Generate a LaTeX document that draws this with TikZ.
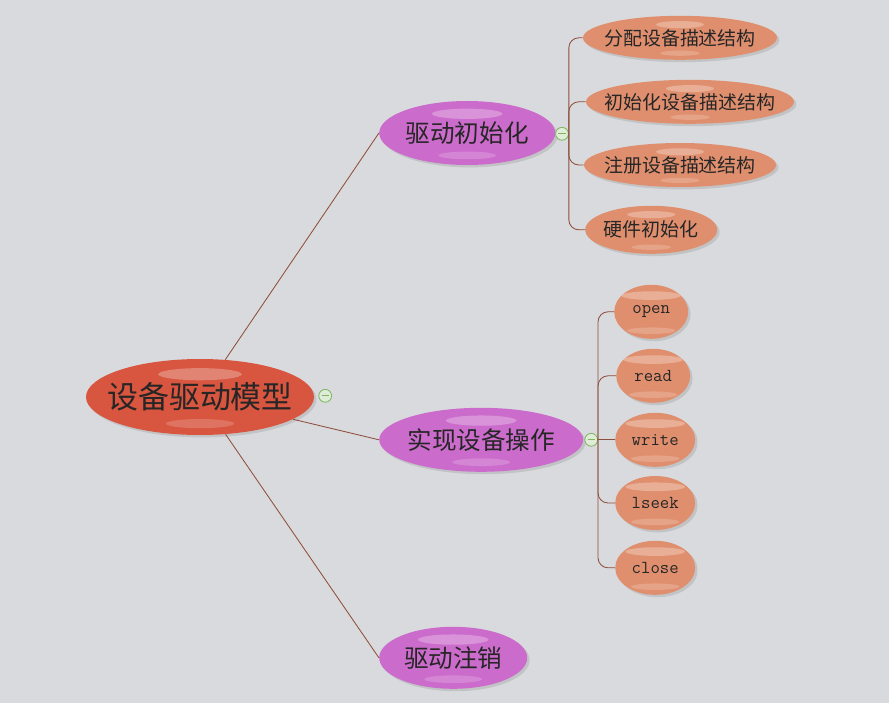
\documentclass[tikz,border=0pt]{standalone}
\usepackage{fontspec}
\newfontfamily\cjk{Noto Sans CJK SC}
\usetikzlibrary{shapes.geometric,shadows}
\definecolor{bgcol}{HTML}{D9DADD}
\definecolor{rootcol}{HTML}{D8553F}
\definecolor{mainc}{HTML}{CB6BCB}
\definecolor{leafc}{HTML}{E08F6E}
\definecolor{linec}{HTML}{8E4E3C}
\definecolor{togc}{HTML}{7DB561}
\newcommand\lbl[1]{\makebox[0pt]{#1}}
\begin{document}
\begin{tikzpicture}[thin,
  gloss/.style={path picture={
    \fill[white,opacity=.28] ([yshift=-0.2*#1]path picture bounding box.north) ellipse (0.55*#1 and 0.08*#1);
    \fill[white,opacity=.18] ([yshift=0.15*#1]path picture bounding box.south) ellipse (0.45*#1 and 0.06*#1);}},
  bubble/.style={ellipse,inner sep=0pt,text=black!85,
    drop shadow={opacity=.25,shadow xshift=.6mm,shadow yshift=-.6mm}},
  rootnode/.style={bubble,fill=rootcol,font=\cjk\fontsize{22}{25}\selectfont,
    minimum width=5.7cm,minimum height=1.9cm,gloss=1.9cm},
  topic/.style={bubble,fill=mainc,font=\cjk\fontsize{17.5}{20}\selectfont,
    minimum height=1.6cm,gloss=1.6cm},
  leaf/.style={bubble,fill=leafc,font=\cjk\fontsize{13.5}{16}\selectfont,
    minimum height=1.1cm,gloss=1.1cm},
  codeleaf/.style={bubble,fill=leafc,font=\ttfamily\fontsize{13}{15}\selectfont,
    minimum height=1.35cm,gloss=1.35cm},
  toggle/.style={circle,draw=togc,fill=togc!25,line width=.6pt,minimum size=3.2mm,inner sep=0pt,
    path picture={\draw[togc,line width=.6pt] ([xshift=-.9mm]path picture bounding box.center) -- ([xshift=.9mm]path picture bounding box.center);}},
  link/.style={draw=linec,line width=.6pt},
  branch/.style={link,rounded corners=2.5mm}]
 \fill[bgcol] (0,0) rectangle (22.225,17.575);
 \node[rootnode] (model) at (5.0,7.65) {\lbl{设备驱动模型}};
 \node[toggle] (tm) at (8.13,7.68) {};
 \node[topic,minimum width=4.4cm] (init) at (11.68,14.25) {\lbl{驱动初始化}};
 \node[topic,minimum width=5.1cm] (ops) at (12.03,6.58) {\lbl{实现设备操作}};
 \node[topic,minimum width=3.7cm,minimum height=1.55cm] (unreg) at (11.33,1.13) {\lbl{驱动注销}};
 \node[toggle] (ti) at (14.05,14.23) {};
 \node[toggle] (to) at (14.78,6.58) {};
 \node[leaf,minimum width=4.85cm] (alloc) at (17.0,16.63) {\lbl{分配设备描述结构}};
 \node[leaf,minimum width=5.2cm] (setup) at (17.25,15.03) {\lbl{初始化设备描述结构}};
 \node[leaf,minimum width=4.8cm] (reg) at (17.0,13.45) {\lbl{注册设备描述结构}};
 \node[leaf,minimum width=3.3cm,minimum height=1.2cm] (hw) at (16.28,11.83) {\lbl{硬件初始化}};
 \node[codeleaf,minimum width=1.85cm] (open) at (16.28,9.78) {\lbl{open}};
 \node[codeleaf,minimum width=1.85cm] (read) at (16.33,8.18) {\lbl{read}};
 \node[codeleaf,minimum width=2.0cm] (write) at (16.38,6.58) {\lbl{write}};
 \node[codeleaf,minimum width=2.0cm] (lseek) at (16.38,5.0) {\lbl{lseek}};
 \node[codeleaf,minimum width=2.0cm] (close) at (16.38,3.38) {\lbl{close}};
 \draw[link] (model) -- (init.west);
 \draw[link] (model) -- (ops.west);
 \draw[link] (model) -- (unreg.west);
 \draw[branch] (ti.east) |- (alloc.west);
 \draw[branch] (ti.east) |- (setup.west);
 \draw[branch] (ti.east) |- (reg.west);
 \draw[branch] (ti.east) |- (hw.west);
 \draw[branch] (to.east) |- (open.west);
 \draw[branch] (to.east) |- (read.west);
 \draw[link] (to.east) -- (write.west);
 \draw[branch] (to.east) |- (lseek.west);
 \draw[branch] (to.east) |- (close.west);
\end{tikzpicture}
\end{document}
